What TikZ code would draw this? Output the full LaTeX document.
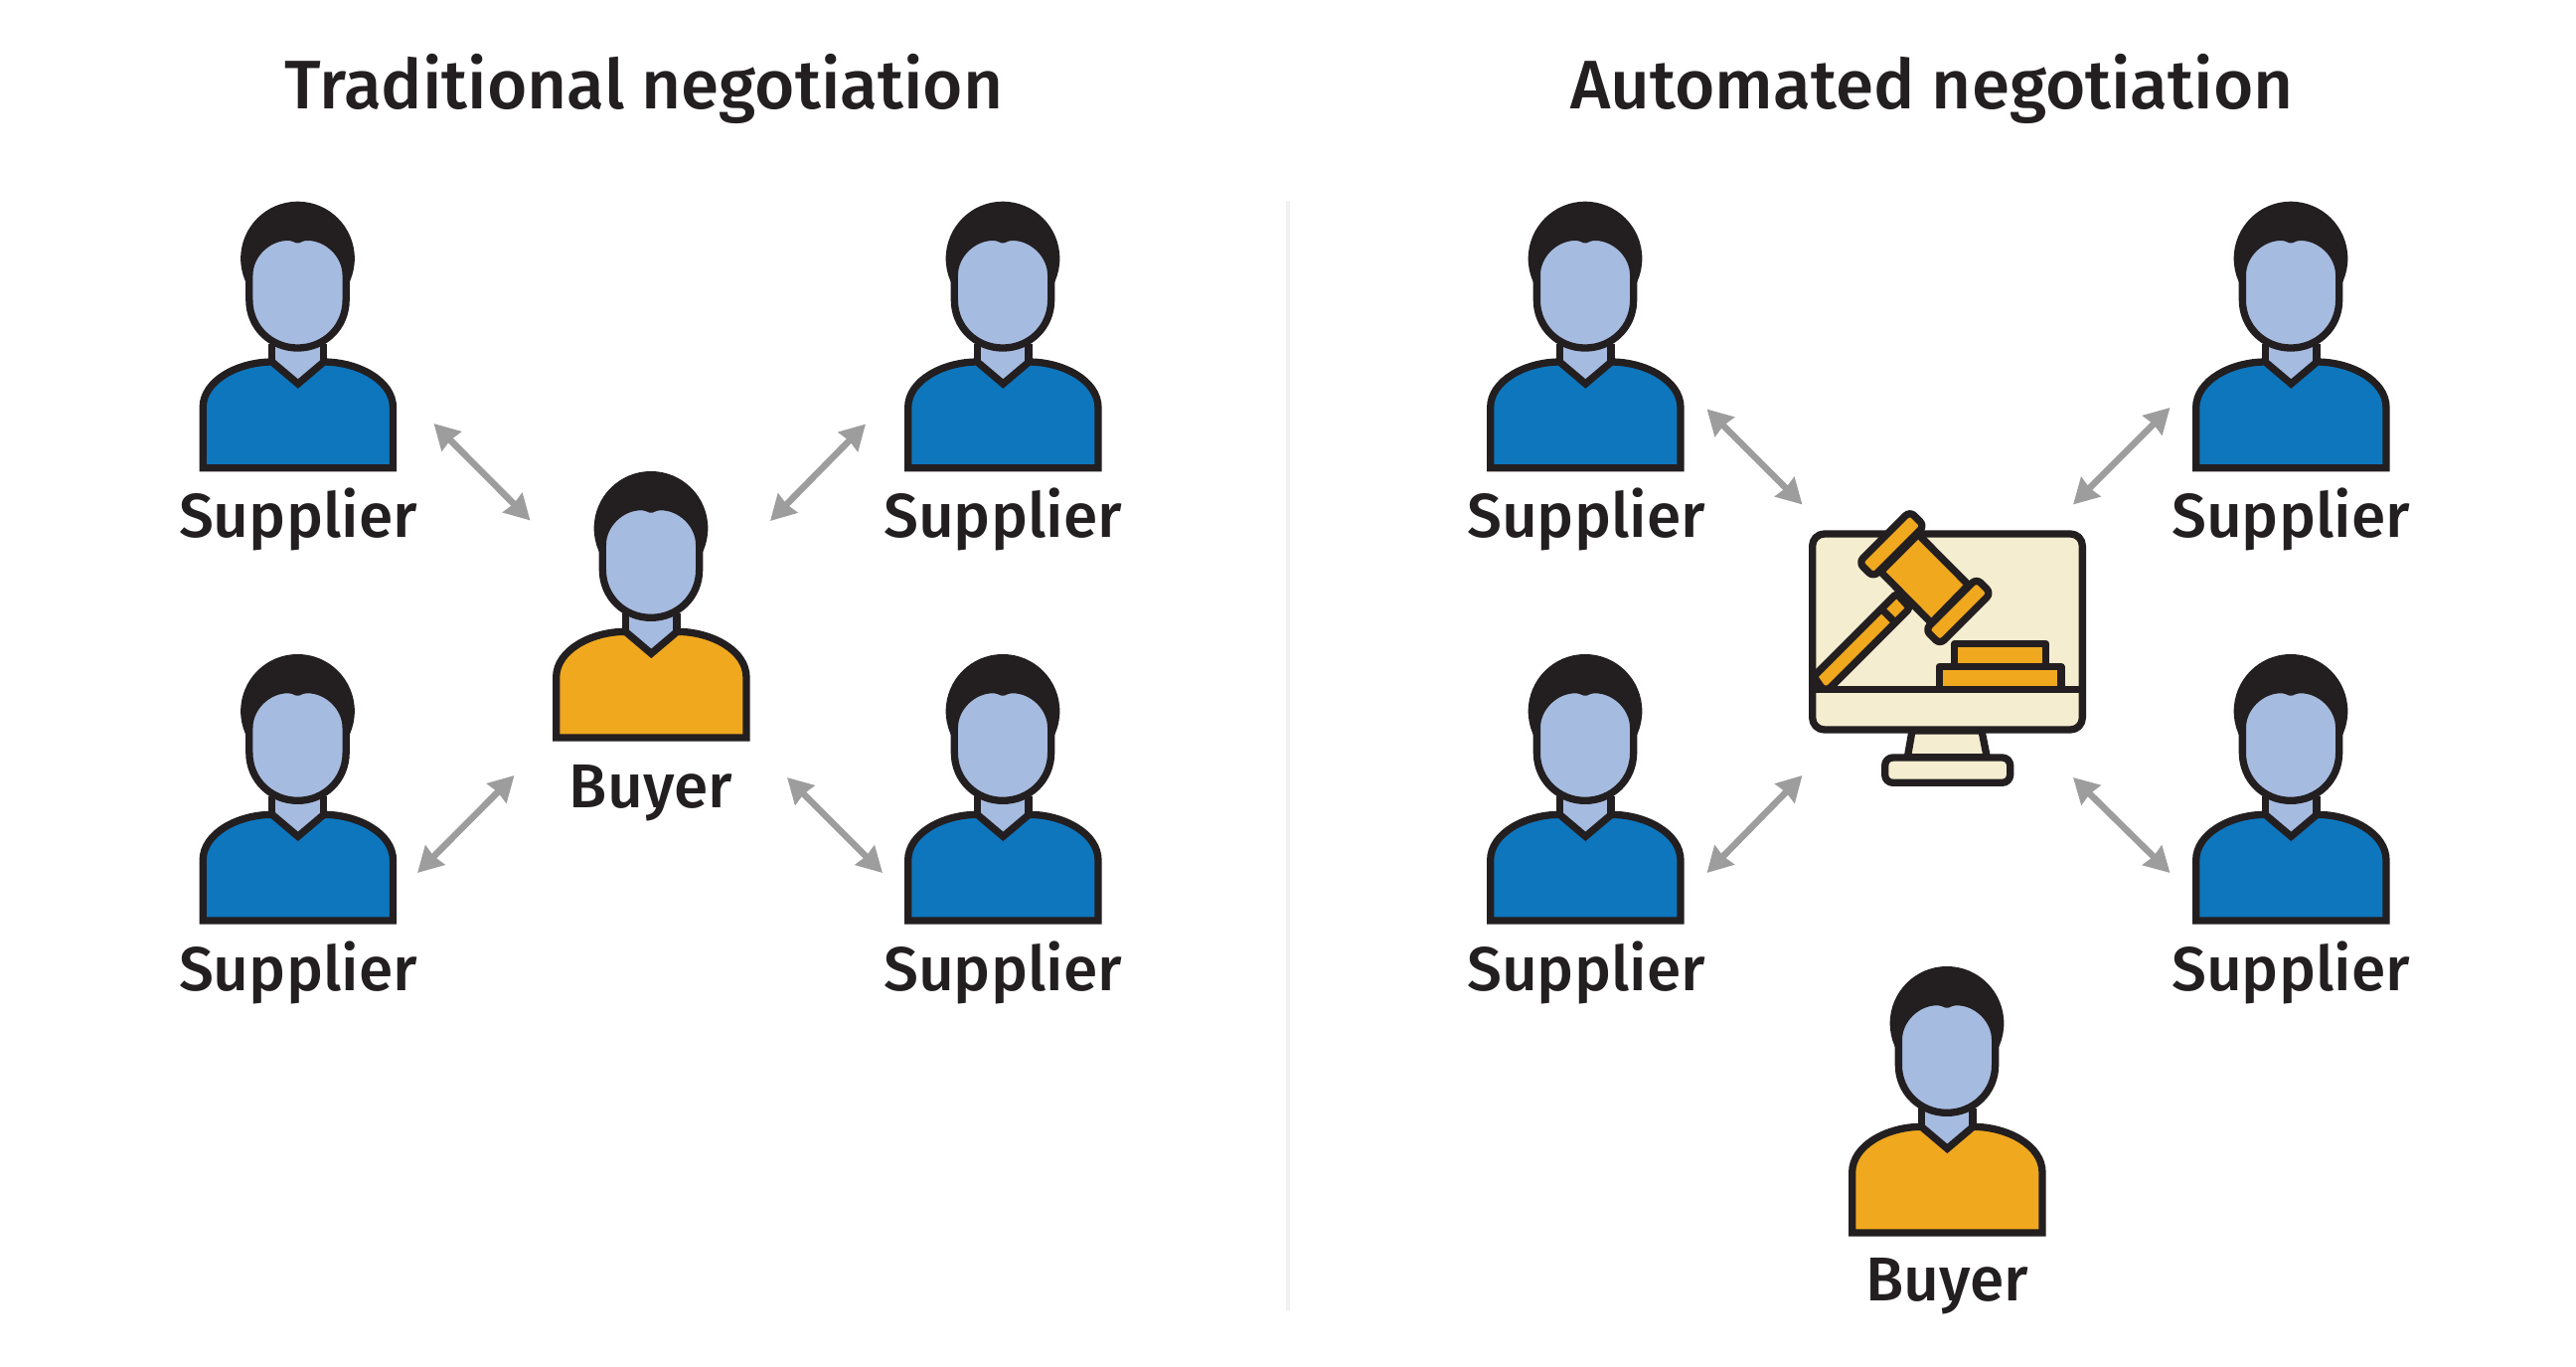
\documentclass[tikz,border=0pt]{standalone}
\usepackage{fontspec}
\setmainfont{Fira Sans Medium}
\usetikzlibrary{arrows.meta}
\definecolor{ink}{HTML}{231F20}
\definecolor{shirtblue}{HTML}{0D76BD}
\definecolor{shirtgold}{HTML}{F0A81E}
\definecolor{skin}{HTML}{A6BBE0}
\definecolor{cream}{HTML}{F4EDD0}
\definecolor{arrowgrey}{HTML}{9D9D9D}
\definecolor{rulegrey}{HTML}{F1F1F1}
\tikzset{
  outl/.style={draw=ink,line width=7.3pt,line join=round},
  titletext/.style={font=\fontsize{69.2}{73}\selectfont,text=ink,anchor=base},
  labeltext/.style={font=\fontsize{62.3}{66}\selectfont,text=ink,anchor=base},
  twoway/.style={arrowgrey,line width=6.6pt,{Stealth[length=25pt,width=27pt,inset=1.5pt]}-{Stealth[length=25pt,width=27pt,inset=1.5pt]}},
  person/.pic={
    \fill[ink] (0,172) circle (172);
    \fill[skin] (-77,430) rectangle (78,560);
    \draw[outl] (-77,430) -- (-77,552) (78,430) -- (78,552);
    \draw[outl,fill=\pgfkeysvalueof{/tikz/shirtcolor},line join=miter]
      (-286,804) -- (-286,622) .. controls (-286,540) and (-180,484) .. (-77,484)
      -- (1,550) -- (79,484) .. controls (182,484) and (288,540) .. (288,622)
      -- (288,804) -- cycle;
    \draw[outl,fill=skin]
      (-146,222) .. controls (-146,160) and (-90,107) .. (-30,107)
      .. controls (-15,107) and (-8,112) .. (0,115)
      .. controls (8,112) and (15,107) .. (30,107)
      .. controls (90,107) and (146,160) .. (146,222)
      -- (146,297) .. controls (146,380) and (80,442) .. (0,442)
      .. controls (-80,442) and (-146,380) .. (-146,297) -- cycle;
  },
  shirtcolor/.initial=shirtblue
}
\begin{document}
\begin{tikzpicture}[x=1pt,y=-1pt]
\useasboundingbox (0,0) rectangle (2592,1375);
\fill[white] (0,0) rectangle (2592,1375);
\coordinate (ruleTop) at (1296,202);
\coordinate (ruleBot) at (1296,1319);
\draw[rulegrey,line width=3.5pt] (ruleTop) -- (ruleBot);

\node[titletext] (title1) at (648,110) {Traditional negotiation};
\node[titletext] (title2) at (1944,110) {Automated negotiation};

% people
\pic[scale=1/3] at (299.5,202.7) {person};
\pic[scale=1/3] at (1009,202.7) {person};
\pic[scale=1/3] at (299.5,658) {person};
\pic[scale=1/3] at (1009,658) {person};
\pic[scale=1/3] at (1595,202.7) {person};
\pic[scale=1/3] at (2305,202.7) {person};
\pic[scale=1/3] at (1595,658) {person};
\pic[scale=1/3] at (2305,658) {person};
\pic[scale=1/3,shirtcolor=shirtgold] at (655,474) {person};
\pic[scale=1/3,shirtcolor=shirtgold] at (1959,972) {person};

\node[labeltext] (s1) at (300,540) {Supplier};
\node[labeltext] (s2) at (1009,540) {Supplier};
\node[labeltext] (s3) at (300,996) {Supplier};
\node[labeltext] (s4) at (1009,996) {Supplier};
\node[labeltext] (s5) at (1596,540) {Supplier};
\node[labeltext] (s6) at (2305,540) {Supplier};
\node[labeltext] (s7) at (1596,996) {Supplier};
\node[labeltext] (s8) at (2305,996) {Supplier};
\node[labeltext] (b1) at (655,812) {Buyer};
\node[labeltext] (b2) at (1959,1308) {Buyer};

% arrows
\coordinate (a1s) at (436.5,426); \coordinate (a1e) at (533.5,523.5);
\coordinate (a2s) at (775,524);   \coordinate (a2e) at (871,426.5);
\coordinate (a3s) at (420,878);   \coordinate (a3e) at (517.5,780);
\coordinate (a4s) at (792,782);   \coordinate (a4e) at (888,878);
\coordinate (c1s) at (1717.5,411.5); \coordinate (c1e) at (1813.5,507.5);
\coordinate (c2s) at (2086,507.5);   \coordinate (c2e) at (2183.5,410);
\coordinate (c3s) at (1717.5,878);   \coordinate (c3e) at (1813.5,780);
\coordinate (c4s) at (2086,782);     \coordinate (c4e) at (2183.5,878);
\foreach \n in {a1,a2,a3,a4,c1,c2,c3,c4}{\draw[twoway] (\n s) -- (\n e);}

% monitor with gavel
\begin{scope}[shift={(1790,490)},scale=1/3]
  \draw[outl,fill=cream] (402,735) -- (388,815) -- (628,815) -- (612,735) -- cycle;
  \draw[outl,fill=cream,rounded corners=8pt] (320,816) rectangle (698,892);
  \draw[outl,fill=cream,rounded corners=12pt] (101,141) rectangle (916,732);
  \draw[outl,fill=shirtgold] (530,540) -- (530,473) -- (806,473) -- (806,540);
  \draw[outl,fill=shirtgold] (484,610) -- (484,542) -- (852,542) -- (852,610);
  \draw[outl,fill=shirtgold,rounded corners=3pt] (355,321) -- (395,365) -- (150,610) -- (132,610) -- (105,571) -- cycle;
  \draw[outl] (310,368) -- (350,408);
  \draw[outl,fill=shirtgold] (420,142) -- (572,295) -- (460,410) -- (307,255) -- cycle;
  \begin{scope}[shift={(340,172)},rotate=45]
    \draw[outl,fill=shirtgold,rounded corners=6pt] (-109,-31) rectangle (109,31);
  \end{scope}
  \begin{scope}[shift={(541,375)},rotate=45]
    \draw[outl,fill=shirtgold,rounded corners=6pt] (-109,-31) rectangle (109,31);
  \end{scope}
  \draw[outl] (101,610) -- (916,610);
\end{scope}
\end{tikzpicture}
\end{document}
